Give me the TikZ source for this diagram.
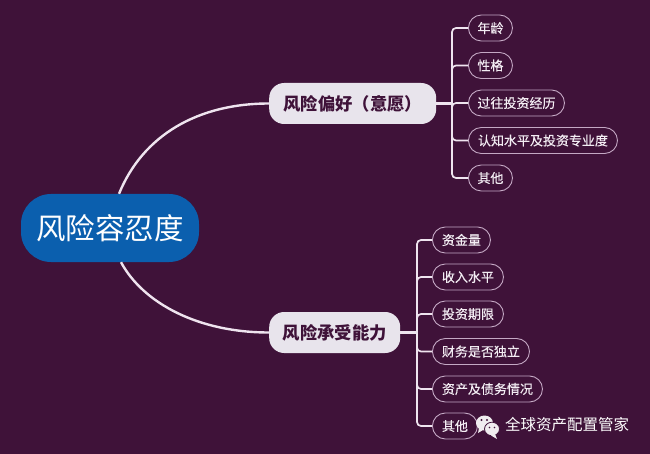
\documentclass[tikz,border=0pt]{standalone}
\usepackage{fontspec}
\setmainfont{Noto Sans CJK SC}
\newfontfamily\cjkreg{Noto Sans CJK SC}
\newfontfamily\cjkmed[FakeBold=0.25]{Noto Sans CJK SC}
\definecolor{bgc}{HTML}{3F1239}
\definecolor{rootc}{HTML}{0B5FAE}
\definecolor{branchc}{HTML}{E8E4EC}
\definecolor{linec}{HTML}{EFE4EF}
\definecolor{leafl}{HTML}{C4A8C4}
\definecolor{leaft}{HTML}{F3EDF3}
\tikzset{
  rootbox/.style={draw=none,fill=rootc,rounded corners=30pt,inner sep=0pt,minimum width=178pt,minimum height=68pt,text=white,font=\cjkreg\fontsize{29.5}{31}\selectfont},
  branchbox/.style={draw=none,fill=branchc,rounded corners=15pt,inner sep=0pt,minimum height=41pt,text=bgc,font=\bfseries\fontsize{17.3}{19}\selectfont},
  leafbox/.style={draw=leafl,line width=0.9pt,fill=bgc,rounded corners=12.9pt,inner sep=0pt,minimum height=26pt,text=leaft,font=\cjkmed\fontsize{13}{15}\selectfont},
  wire/.style={draw=linec,line width=2.4pt},
  twig/.style={draw=linec,line width=1.7pt,rounded corners=4pt},
  mark text/.style={text=white,inner sep=0pt,font=\cjkreg\fontsize{15.5}{17}\selectfont},
}
\begin{document}
\begin{tikzpicture}[x=1pt,y=-1pt]
\fill[bgc] (0,0) rectangle (650,454);
\useasboundingbox (0,0) rectangle (650,454);
\node[rootbox] (root) at (110,228) {风险容忍度};
\node[branchbox,minimum width=167pt,anchor=west] (pref) at (269,103.5) {风险偏好（意愿）};
\node[branchbox,minimum width=131pt,anchor=west] (cap) at (269,332.5) {风险承受能力};
\draw[wire] ([xshift=9pt]root.north) .. controls (143,135) and (198,103.5) .. (pref.west);
\draw[wire] ([xshift=11pt]root.south) .. controls (143,303) and (198,332.5) .. (cap.west);
\coordinate (ja) at (452,103.5);
\coordinate (jb) at (417,332.5);
\node[leafbox,minimum width=44pt,anchor=west] (a1) at (468,28) {年龄};
\node[leafbox,minimum width=44pt,anchor=west] (a2) at (468,65.5) {性格};
\node[leafbox,minimum width=96pt,anchor=west] (a3) at (468,103) {过往投资经历};
\node[leafbox,minimum width=149pt,anchor=west] (a4) at (468,140.5) {认知水平及投资专业度};
\node[leafbox,minimum width=44pt,anchor=west] (a5) at (468,178) {其他};
\node[leafbox,minimum width=58pt,anchor=west] (b1) at (432,240) {资金量};
\node[leafbox,minimum width=71pt,anchor=west] (b2) at (432,277) {收入水平};
\node[leafbox,minimum width=71pt,anchor=west] (b3) at (432,314) {投资期限};
\node[leafbox,minimum width=97pt,anchor=west] (b4) at (432,351.5) {财务是否独立};
\node[leafbox,minimum width=110pt,anchor=west] (b5) at (432,389) {资产及债务情况};
\node[leafbox,minimum width=45pt,anchor=west] (b6) at (432,426) {其他};
\draw[wire] (pref.east) -- (ja);
\draw[wire] (cap.east) -- (jb);
\foreach \n in {a1,a2,a3,a4,a5} \draw[twig] (ja) |- (\n.west);
\foreach \n in {b1,b2,b3,b4,b5,b6} \draw[twig] (jb) |- (\n.west);
\node[mark text,anchor=west] (mark) at (505,425) {全球资产配置管家};
% chat icon
\fill[white!92!bgc] (484.5,423) ellipse [x radius=8.5pt,y radius=7.5pt];
\fill[white!92!bgc] (479,428) -- (478,433) -- (483,430) -- cycle;
\filldraw[fill=white!92!bgc,draw=bgc,line width=0.8pt] (492,429) ellipse [x radius=7.5pt,y radius=6.8pt];
\fill[white!92!bgc] (495,434) -- (497,439) -- (491,435.5) -- cycle;
\fill[bgc] (481.5,420) circle [radius=1.1pt] (487,420) circle [radius=1.1pt];
\fill[bgc] (489.5,427.5) circle [radius=0.9pt] (494.5,427.5) circle [radius=0.9pt];
\end{tikzpicture}
\end{document}
